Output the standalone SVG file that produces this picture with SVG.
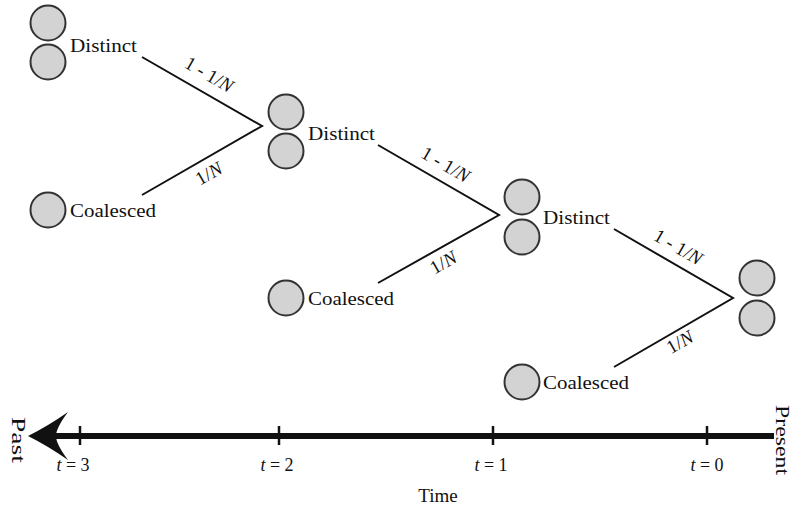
<svg xmlns="http://www.w3.org/2000/svg" width="792" height="512" viewBox="0 0 792 512">
  <style>
    .lin { fill: #d3d3d3; stroke: #333; stroke-width: 2; }
    .lbl { font-family: "Liberation Serif", "Times New Roman", serif; font-size: 19px; fill: #111; }
    .prob { font-family: "Liberation Serif", "Times New Roman", serif; font-size: 19px; fill: #111; text-anchor: middle; }
    .tick { font-family: "Liberation Serif", "Times New Roman", serif; font-size: 18px; fill: #111; text-anchor: middle; }
    .branch { stroke: #111; stroke-width: 2; fill: none; }
    .axis { stroke: #111; fill: none; }
    .it { font-style: italic; }
  </style>
  <rect width="792" height="512" fill="#fff"/>

  <!-- branch connectors with transition probabilities -->
  <g id="connectors">
    <polyline class="branch" points="142,57 262,126 142,195"/>
    <polyline class="branch" points="378,145 499,215 378,283"/>
    <polyline class="branch" points="614,229 733,298 614,367"/>
    <text class="prob" transform="translate(206,80) rotate(30)">1 - 1/<tspan class="it">N</tspan></text>
    <text class="prob" transform="translate(442.5,170) rotate(30)">1 - 1/<tspan class="it">N</tspan></text>
    <text class="prob" transform="translate(675,252.5) rotate(30)">1 - 1/<tspan class="it">N</tspan></text>
    <text class="prob" transform="translate(212,179) rotate(-30)">1/<tspan class="it">N</tspan></text>
    <text class="prob" transform="translate(446.5,268) rotate(-30)">1/<tspan class="it">N</tspan></text>
    <text class="prob" transform="translate(683,347.5) rotate(-30)">1/<tspan class="it">N</tspan></text>
  </g>

  <!-- generation t=3 -->
  <g id="distinct-t3">
    <circle class="lin" cx="48" cy="23" r="17.5"/>
    <circle class="lin" cx="48" cy="62" r="17.5"/>
    <text class="lbl" x="70" y="52" textLength="67" lengthAdjust="spacingAndGlyphs">Distinct</text>
  </g>
  <g id="coalesced-t3">
    <circle class="lin" cx="48" cy="210" r="17.5"/>
    <text class="lbl" x="70" y="217" textLength="86" lengthAdjust="spacingAndGlyphs">Coalesced</text>
  </g>

  <!-- generation t=2 -->
  <g id="distinct-t2">
    <circle class="lin" cx="286" cy="112" r="17.5"/>
    <circle class="lin" cx="286" cy="151" r="17.5"/>
    <text class="lbl" x="308" y="140" textLength="67" lengthAdjust="spacingAndGlyphs">Distinct</text>
  </g>
  <g id="coalesced-t2">
    <circle class="lin" cx="286" cy="298" r="17.5"/>
    <text class="lbl" x="308" y="305" textLength="86" lengthAdjust="spacingAndGlyphs">Coalesced</text>
  </g>

  <!-- generation t=1 -->
  <g id="distinct-t1">
    <circle class="lin" cx="522" cy="197" r="17.5"/>
    <circle class="lin" cx="522" cy="237" r="17.5"/>
    <text class="lbl" x="543" y="224" textLength="67" lengthAdjust="spacingAndGlyphs">Distinct</text>
  </g>
  <g id="coalesced-t1">
    <circle class="lin" cx="522" cy="382" r="17.5"/>
    <text class="lbl" x="543" y="389" textLength="86" lengthAdjust="spacingAndGlyphs">Coalesced</text>
  </g>

  <!-- present pair t=0 -->
  <g id="present-pair">
    <circle class="lin" cx="757" cy="278" r="17.5"/>
    <circle class="lin" cx="757" cy="318" r="17.5"/>
  </g>

  <!-- time axis -->
  <g id="time-axis">
    <line class="axis" x1="56" y1="436" x2="774" y2="436" stroke-width="6"/>
    <path d="M28,436 Q48,426 68,412 Q56,428 56,436 Q56,444 68,460 Q48,446 28,436 Z" fill="#111"/>
    <g class="axis" stroke-width="2.5">
      <line x1="80" y1="426" x2="80" y2="445"/>
      <line x1="279" y1="426" x2="279" y2="445"/>
      <line x1="493" y1="426" x2="493" y2="445"/>
      <line x1="707" y1="426" x2="707" y2="445"/>
    </g>
    <text class="tick" x="73" y="471"><tspan class="it">t</tspan> = 3</text>
    <text class="tick" x="277" y="471"><tspan class="it">t</tspan> = 2</text>
    <text class="tick" x="491" y="471"><tspan class="it">t</tspan> = 1</text>
    <text class="tick" x="707" y="471"><tspan class="it">t</tspan> = 0</text>
    <text class="lbl" x="438" y="502" text-anchor="middle" font-size="18">Time</text>
    <text class="lbl" transform="translate(12,440) rotate(90)" text-anchor="middle" font-size="17" textLength="46" lengthAdjust="spacingAndGlyphs">Past</text>
    <text class="lbl" transform="translate(776,440) rotate(90)" text-anchor="middle" font-size="16" textLength="70" lengthAdjust="spacingAndGlyphs">Present</text>
  </g>
</svg>
